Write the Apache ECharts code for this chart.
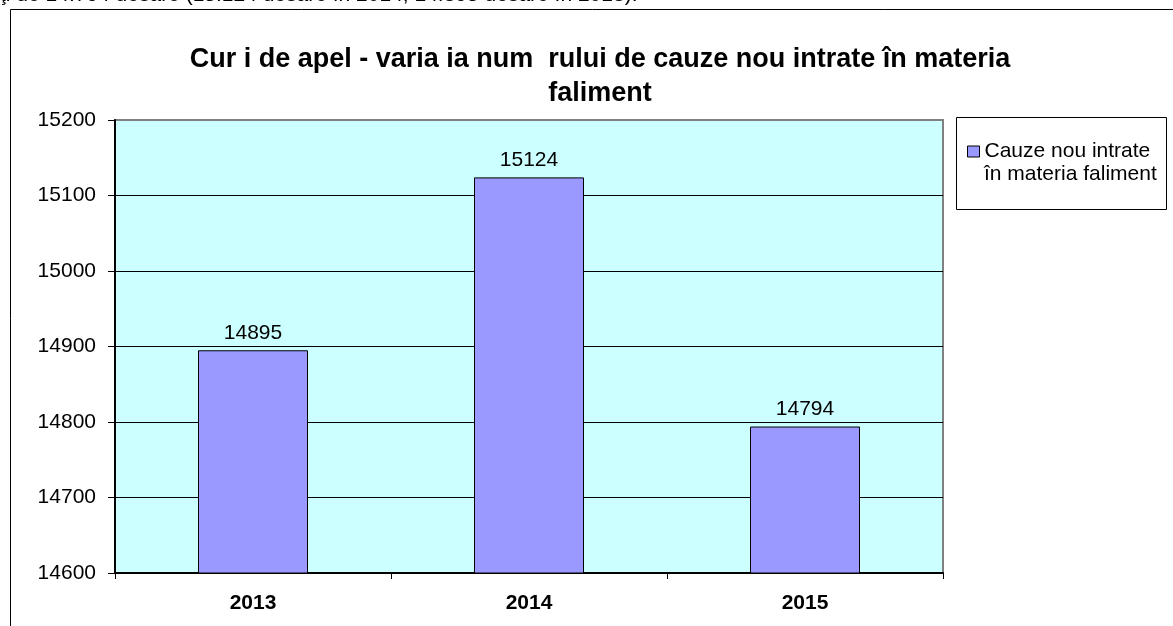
<!DOCTYPE html>
<html>
<head>
<meta charset="utf-8">
<script src="https://cdn.jsdelivr.net/npm/echarts@6/dist/echarts.min.js"></script>
<style>
  html, body { margin: 0; padding: 0; background: #fff; }
  #chart { width: 1173px; height: 626px; }
</style>
</head>
<body>
<div id="chart"></div>
<script>
// date
var years = ['2013', '2014', '2015'];
var cauzeNou = [14895, 15124, 14794];
var seriesName = 'Cauze nou intrate';
var legendLine2 = 'în materia faliment';
var titleText = 'Cur i de apel - varia ia num  rului de cauze nou intrate în materia\nfaliment';
var topLine = 'ţi de 14.794 dosare (15.124 dosare în 2014, 14.895 dosare în 2013).';

var chart = echarts.init(document.getElementById('chart'), null, { renderer: 'canvas' });

var FONT = '"Liberation Sans", Arial, sans-serif';

chart.setOption({
  animation: false,
  textStyle: { fontFamily: FONT },
  title: {
    text: titleText,
    left: 595,
    top: 38,
    textAlign: 'center',
    textStyle: { fontFamily: FONT, fontSize: 27, fontWeight: 'bold', color: '#000', lineHeight: 34 }
  },
  legend: {
    data: [seriesName],
    left: 967,
    top: 140,
    padding: 0,
    itemWidth: 12,
    itemHeight: 11,
    icon: 'rect',
    itemStyle: { borderColor: '#000', borderWidth: 1 },
    textStyle: { fontFamily: FONT, fontSize: 21, color: '#000', lineHeight: 23 }
  },
  grid: {
    left: 115,
    top: 120,
    width: 828,
    height: 453,
    show: true,
    backgroundColor: '#CCFFFF',
    borderColor: '#808080',
    borderWidth: 2
  },
  xAxis: {
    type: 'category',
    data: years,
    boundaryGap: true,
    axisLine: { lineStyle: { color: '#000', width: 2 } },
    axisTick: { show: true, length: 6, lineStyle: { color: '#000', width: 1 } },
    axisLabel: { color: '#000', fontFamily: FONT, fontSize: 21, fontWeight: 'bold', margin: 20 }
  },
  yAxis: {
    type: 'value',
    min: 14600,
    max: 15200,
    interval: 100,
    axisLine: { show: true, lineStyle: { color: '#000', width: 2 } },
    axisTick: { show: true, length: 7, lineStyle: { color: '#000', width: 1 } },
    axisLabel: {
      color: '#000', fontFamily: FONT, fontSize: 21, margin: 19,
      formatter: function (v) { return String(v); }
    },
    splitLine: {
      show: true,
      lineStyle: {
        color: ['#000', '#000', '#000', '#000', '#000', '#000', '#808080'],
        width: 1
      }
    }
  },
  series: [{
    name: seriesName,
    type: 'bar',
    data: cauzeNou,
    barWidth: 110,
    itemStyle: { color: '#9999FF', borderColor: '#000', borderWidth: 1 },
    label: {
      show: true,
      position: 'top',
      distance: 7,
      color: '#000',
      fontFamily: FONT,
      fontSize: 21
    }
  }],
  graphic: [
    {
      type: 'rect',
      z: -1,
      shape: { x: 10.5, y: 9.5, width: 1300, height: 800 },
      style: { fill: 'none', stroke: '#000', lineWidth: 1 }
    },
    {
      type: 'rect',
      shape: { x: 956.5, y: 117.5, width: 210, height: 92 },
      style: { fill: 'none', stroke: '#000', lineWidth: 1 }
    },
    {
      type: 'text',
      x: 984,
      y: 174,
      style: { text: legendLine2, fontFamily: FONT, fontSize: 21, fill: '#000', verticalAlign: 'middle' }
    },
    {
      type: 'text',
      x: 0,
      y: 6,
      style: { text: topLine, fontFamily: FONT, fontSize: 21, fill: '#000', verticalAlign: 'bottom' }
    }
  ]
});
</script>
</body>
</html>
